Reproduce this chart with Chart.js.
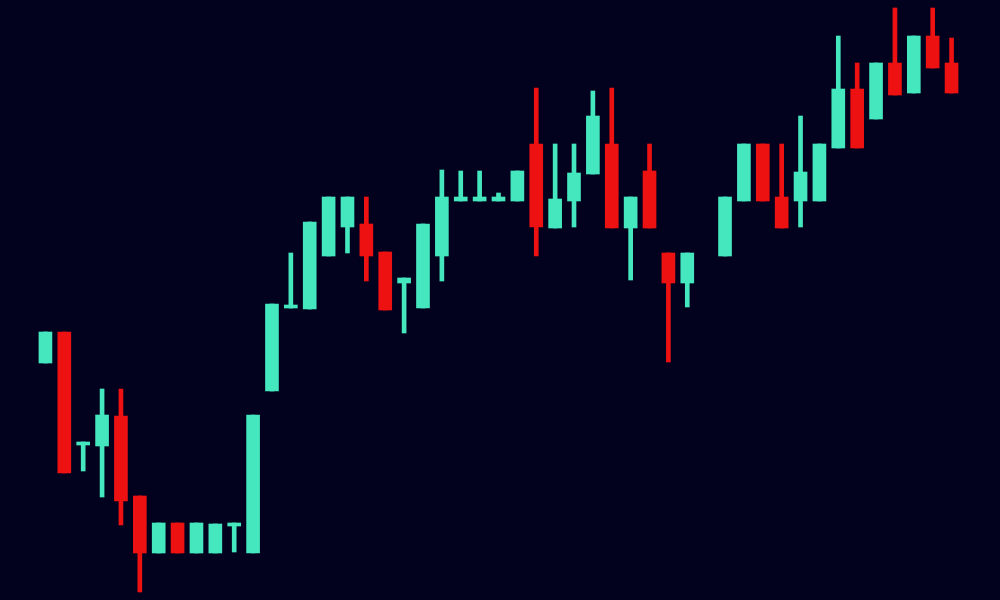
<!DOCTYPE html>
<html>
<head>
<meta charset="utf-8">
<script src="https://cdn.jsdelivr.net/npm/chart.js@4.4.1/dist/chart.umd.min.js"></script>
<style>
  html, body { margin: 0; padding: 0; background: #02021f; }
  canvas { display: block; }
</style>
</head>
<body>
<canvas id="candles" width="1000" height="600"></canvas>
<script>
// one entry per session, null = no trading that slot
var sessions = [];
for (i = 1; i <= 49; i++) {
  sessions.push('S' + i);
}
var opens  = [123.7, 126.8, 115.5, 115.4, 118.4, 110.4, 104.7, 107.7, 104.7, 104.7, 107.4, 104.7,
              120.9, 129.2, 129.1, 134.4, 137.3, 137.6, 134.8, 131.7, 129.2, 134.4, 139.9, 139.9,
              139.9, 139.9, 145.6, 137.2, 139.9, 142.6, 145.6, 137.2, 142.9, 134.7, 131.7, null,
              134.4, 139.9, 145.6, 140.3, 139.9, 139.9, 145.2, 151.1, 148.1, 153.7, 150.7, 156.4, 153.7];
var highs  = [126.8, 126.8, 115.8, 121.1, 121.1, 110.4, 107.7, 107.7, 107.7, 107.6, 107.7, 118.5,
              129.6, 134.7, 137.8, 140.3, 140.3, 140.3, 134.8, 132.2, 137.6, 143.0, 142.9, 142.9,
              140.7, 142.9, 151.2, 145.6, 145.6, 150.9, 151.2, 140.3, 145.6, 134.7, 134.7, null,
              140.3, 145.6, 145.6, 145.6, 148.4, 145.6, 156.4, 153.7, 153.7, 159.2, 156.4, 159.2, 156.2];
var lows   = [123.7, 112.7, 112.9, 110.3, 107.5, 100.8, 104.7, 104.7, 104.7, 104.7, 104.8, 104.7,
              120.9, 129.2, 129.1, 134.4, 134.7, 131.9, 129.0, 126.7, 129.2, 131.9, 139.9, 139.9,
              139.9, 139.9, 134.4, 137.2, 137.3, 142.6, 137.2, 132.0, 137.2, 123.8, 129.3, null,
              134.4, 139.9, 139.9, 137.2, 137.3, 139.9, 145.2, 145.2, 148.1, 150.5, 150.7, 153.2, 150.7];
var closes = [126.8, 112.7, 115.8, 118.5, 109.9, 104.7, 107.7, 104.7, 107.7, 107.6, 107.7, 118.5,
              129.6, 129.5, 137.8, 140.3, 140.3, 134.4, 129.0, 132.2, 137.6, 140.3, 140.3, 140.3,
              140.3, 142.9, 137.3, 140.1, 142.7, 148.4, 137.2, 140.3, 137.2, 131.7, 134.7, null,
              140.3, 145.6, 139.9, 137.2, 142.8, 145.6, 151.1, 145.2, 153.7, 150.5, 156.4, 153.2, 150.7];

var up_colour = '#45e8be';
var down_colour = '#ee1111';

let bodies = [];
let wicks = [];
let colours = [];
for (i = 0; i < sessions.length; i++) {
  if (opens[i] === null) {
    bodies.push(null);
    wicks.push(null);
    colours.push(up_colour);
    continue;
  }
  bodies.push([opens[i], closes[i]]);
  wicks.push([lows[i], highs[i]]);
  colours.push(closes[i] >= opens[i] ? up_colour : down_colour);
}

var ctx = document.getElementById('candles').getContext('2d');
var candleChart = new Chart(ctx, {
  type: 'bar',
  data: {
    labels: sessions,
    datasets: [{
      label: 'Body',
      data: bodies,
      backgroundColor: colours,
      barThickness: 13,
      minBarLength: 3,
      borderWidth: 0
    }, {
      label: 'Wick',
      data: wicks,
      backgroundColor: colours,
      barThickness: 4,
      borderWidth: 0
    }]
  },
  options: {
    responsive: false,
    animation: false,
    layout: { padding: { left: 36, right: 39, top: 0, bottom: 0 } },
    datasets: { bar: { grouped: false } },
    plugins: {
      legend: { display: false },
      tooltip: { enabled: false }
    },
    scales: {
      x: { display: false, offset: true },
      y: { display: false, min: 100, max: 160 }
    }
  }
});
</script>
</body>
</html>
